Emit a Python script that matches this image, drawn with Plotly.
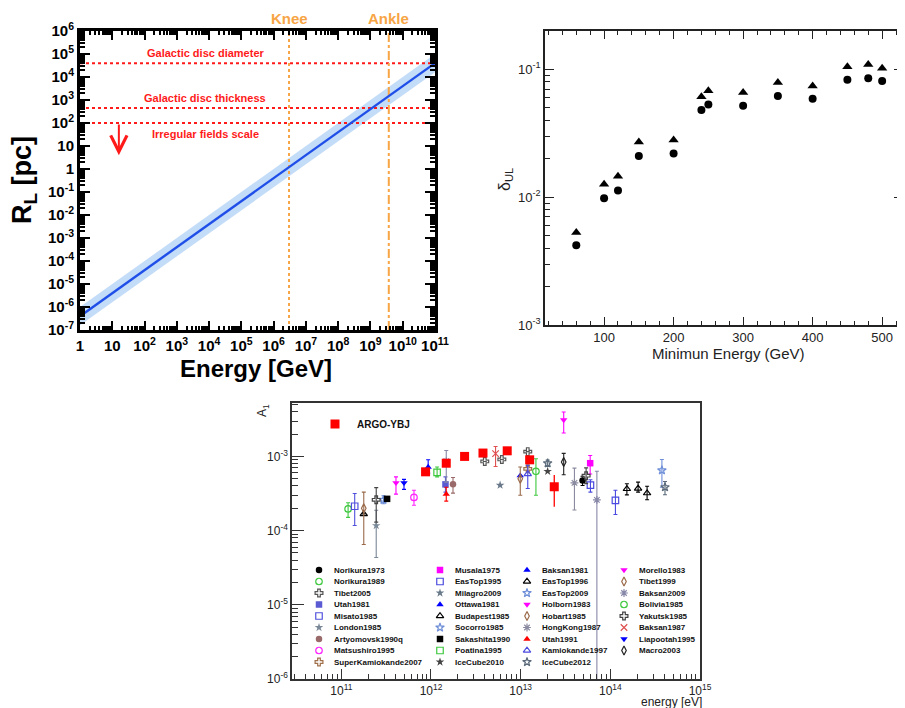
import math
import plotly.graph_objects as go

W, H = 905, 708
OFF = 8  # the page body adds an 8px margin around the figure
FONT = "Liberation Sans, Arial, Helvetica, sans-serif"

# ---------------- Panel 1: Larmor radius vs energy ----------------
rl_energy_gev = [1, 1e11]
rl_pc = [4e-7, 4e4]
rl_pc_low = [1.6e-7, 1.6e4]
rl_pc_high = [1.0e-6, 1.0e5]
rl_pc_axis = [1e-7, 1e6]
scale_labels = ["Galactic disc diameter", "Galactic disc thickness", "Irregular fields scale"]
scale_pc = [4e4, 450, 100]
feature_labels = ["Knee", "Ankle"]
feature_gev = [3e6, 3.7e9]
feature_dash = ["dot", "dashdot"]
p1_x_ticks = [10 ** k for k in range(0, 12)]
p1_x_ticktext = ["1", "10"] + [f"10<sup>{k}</sup>" for k in range(2, 12)]
p1_y_ticks = [10.0 ** k for k in range(-7, 7)]
p1_y_ticktext = [f"10<sup>{k}</sup>" for k in range(-7, 0)] + ["1", "10"] + [f"10<sup>{k}</sup>" for k in range(2, 7)]

# ---------------- Panel 2: delta_UL vs minimum energy ----------------
min_energy_gev = [60, 100, 120, 150, 200, 240, 250, 300, 350, 400, 450, 480, 500]
delta_ul_circle = [0.0042, 0.0098, 0.0113, 0.021, 0.022, 0.048, 0.053, 0.052, 0.062, 0.059, 0.083, 0.085, 0.081]
delta_ul_triangle = [0.0053, 0.0126, 0.0146, 0.027, 0.028, 0.061, 0.068, 0.066, 0.079, 0.074, 0.105, 0.109, 0.102]
p2_y_ticks = [1e-3, 1e-2, 1e-1]
p2_y_ticktext = ["10<sup>-3</sup>", "10<sup>-2</sup>", "10<sup>-1</sup>"]

# ---------------- Panel 3: dipole amplitude A1 vs energy ----------------
argo_energy_ev = [8.7e11, 1.48e12, 2.37e12, 3.8e12, 7.08e12, 1.26e13, 2.37e13]
argo_a1 = [6.2e-4, 8.1e-4, 1.0e-3, 1.11e-3, 1.19e-3, 9.0e-4, 3.9e-4]
argo_hi = [None, None, None, None, None, None, 5.6e-4]
argo_lo = [None, None, None, None, None, None, 2.1e-4]

exp_names = [
    "Norikura1973", "Norikura1989", "Tibet2005", "Utah1981", "Misato1985", "London1985",
    "Artyomovsk1990q", "Matsushiro1995", "SuperKamiokande2007",
    "Musala1975", "EasTop1995", "Milagro2009", "Ottawa1981", "Budapest1985", "Socorro1985",
    "Sakashita1990", "Poatina1995", "IceCube2010",
    "Baksan1981", "EasTop1996", "EasTop2009", "Holborn1983", "Hobart1985", "HongKong1987",
    "Utah1991", "Kamiokande1997", "IceCube2012",
    "Morello1983", "Tibet1999", "Baksan2009", "Bolivia1985", "Yakutsk1985", "Baksan1987",
    "Liapootah1995", "Macro2003",
]
exp_symbols = [
    "circle", "circle-open", "cross-open", "square", "square-open", "star",
    "circle", "circle-open", "cross-open",
    "square", "square-open", "star", "triangle-up", "triangle-up-open", "star-open",
    "square", "square-open", "star",
    "triangle-up", "triangle-up-open", "star-open", "triangle-down", "diamond-tall-open", "asterisk-open",
    "triangle-up", "triangle-up-open", "star-open",
    "triangle-down", "diamond-tall-open", "asterisk-open", "circle-open", "cross-open", "x-thin-open",
    "triangle-down", "diamond-tall-open",
]
exp_colors = [
    "#000000", "#3ec83e", "#555555", "#5a5ad2", "#5050dc", "#7a8898",
    "#9a6a6a", "#ff22ff", "#a0704a",
    "#ff00ff", "#4a4ae0", "#6a7a8a", "#0000ff", "#000000", "#6f8fd8",
    "#000000", "#3ec83e", "#444444",
    "#0000ff", "#000000", "#6f8fd8", "#ff00ff", "#9a6a4a", "#8a8aa0",
    "#ff0000", "#4a4ae0", "#5a6a7a",
    "#ff00ff", "#9a6a4a", "#8888a8", "#3ec83e", "#444444", "#e05050",
    "#0000ff", "#222222",
]

pt_exp = [
    "Norikura1973", "Norikura1989",
    "Tibet2005", "Tibet2005", "Tibet2005",
    "Utah1981", "Misato1985", "London1985", "Artyomovsk1990q", "Matsushiro1995",
    "SuperKamiokande2007", "Musala1975", "EasTop1995", "EasTop1995", "Milagro2009",
    "Ottawa1981", "Budapest1985", "Socorro1985", "Sakashita1990", "Poatina1995",
    "IceCube2010", "Baksan1981",
    "EasTop1996", "EasTop1996", "EasTop1996",
    "EasTop2009", "Holborn1983", "Hobart1985", "HongKong1987", "Utah1991",
    "Kamiokande1997", "IceCube2012", "IceCube2012", "Morello1983", "Tibet1999",
    "Baksan2009", "Baksan2009", "Bolivia1985", "Yakutsk1985", "Yakutsk1985",
    "Baksan1987", "Liapootah1995", "Macro2003",
]
pt_energy_ev = [
    4.9e13, 1.19e11,
    3.98e12, 6.17e12, 1.2e13,
    1.45e12, 1.41e11, 2.45e11, 1.76e12, 6.46e11,
    1.2e13, 5.96e13, 6.0e13, 1.14e14, 5.9e12,
    9.3e11, 1.78e11, 2.95e11, 3.24e11, 1.17e12,
    2.0e13, 9.9e12,
    1.53e14, 2.04e14, 2.57e14,
    3.76e14, 4.07e11, 1.78e11, 3.98e13, 1.48e12,
    1.2e13, 2.0e13, 4.07e14, 3.02e13, 9.9e12,
    1.48e12, 7.08e13, 1.48e13, 2.45e11, 5.37e13,
    5.25e12, 5.0e11, 3.02e13,
]
pt_a1 = [
    4.75e-4, 1.96e-4,
    8.55e-4, 9.1e-4, 1.16e-3,
    4.2e-4, 2.13e-4, 1.17e-4, 4.2e-4, 2.8e-4,
    6.8e-4, 8.1e-4, 4.1e-4, 2.55e-4, 4.1e-4,
    7.2e-4, 1.68e-4, 2.6e-4, 2.68e-4, 6.1e-4,
    6.3e-4, 5.5e-4,
    3.65e-4, 3.7e-4, 3.2e-4,
    6.5e-4, 4.4e-4, 2.0e-4, 4.4e-4, 3.1e-4,
    5.8e-4, 8.1e-4, 3.85e-4, 3.1e-3, 5.0e-4,
    8.6e-4, 2.6e-4, 6.3e-4, 2.6e-4, 5.5e-4,
    1.09e-3, 4.4e-4, 8.4e-4,
]
pt_hi = [
    5.4e-4, 2.37e-4,
    None, None, None,
    5.3e-4, 3.16e-4, 1.88e-4, 5.2e-4, 3.5e-4,
    7.4e-4, 1.03e-3, 4.85e-4, 3.5e-4, None,
    9.0e-4, None, 2.95e-4, None, 7.2e-4,
    None, None,
    4.28e-4, 4.5e-4, 3.97e-4,
    9.1e-4, 5.3e-4, 3.3e-4, 6.95e-4, 3.85e-4,
    7.6e-4, 8.9e-4, 4.6e-4, 3.97e-3, 7.2e-4,
    1.2e-3, 6.3e-4, 9.3e-4, 3.8e-4, 7.0e-4,
    1.36e-3, 4.9e-4, 1.1e-3,
]
pt_lo = [
    4.06e-4, 1.51e-4,
    None, None, None,
    3.3e-4, 1.17e-4, 4.35e-5, 3.2e-4, 2.2e-4,
    6.2e-4, 5.8e-4, 3.3e-4, 1.65e-4, None,
    5.95e-4, None, 2.3e-4, None, 5.3e-4,
    None, None,
    3.03e-4, 3.3e-4, 2.6e-4,
    3.85e-4, 3.1e-4, 6.5e-5, 1.9e-4, 2.5e-4,
    3.7e-4, 7.3e-4, 3.05e-4, 2.07e-3, 3.0e-4,
    4.5e-4, 1e-7, 3.0e-4, 1.3e-4, 4.3e-4,
    7.3e-4, 3.6e-4, 5.65e-4,
]
p3_x_ticks = [1e11, 1e12, 1e13, 1e14, 1e15]
p3_x_ticktext = [f"10<sup>{k}</sup>" for k in range(11, 16)]
p3_y_ticks = [1e-6, 1e-5, 1e-4, 1e-3]
p3_y_ticktext = [f"10<sup>{k}</sup>" for k in range(-6, -2)]

# ---------------- layout helpers (screen pixel -> paper) ----------------
def px(x):
    return (x - OFF) / W


def py(y):
    return 1 - (y - OFF) / H


def minor_log(lo, hi):
    return [m * 10.0 ** d for d in range(lo, hi) for m in range(2, 10)]


def err_up(vals, his):
    return [(h - v) if h is not None else None for v, h in zip(vals, his)]


def err_dn(vals, los):
    return [(v - l) if l is not None else None for v, l in zip(vals, los)]


fig = go.Figure()

# ---- Panel 1 traces
fig.add_trace(go.Scatter(x=rl_energy_gev, y=rl_pc_high, mode="lines", line=dict(width=0),
                         xaxis="x", yaxis="y", showlegend=False, hoverinfo="skip"))
fig.add_trace(go.Scatter(x=rl_energy_gev, y=rl_pc_low, mode="lines", line=dict(width=0),
                         fill="tonexty", fillcolor="rgba(170,205,245,0.7)",
                         xaxis="x", yaxis="y", showlegend=False, hoverinfo="skip"))
for v in scale_pc:
    fig.add_trace(go.Scatter(x=rl_energy_gev, y=[v, v], mode="lines",
                             line=dict(color="#ff1a1a", width=2, dash="dot"),
                             xaxis="x", yaxis="y", showlegend=False))
for e, d in zip(feature_gev, feature_dash):
    fig.add_trace(go.Scatter(x=[e, e], y=rl_pc_axis, mode="lines",
                             line=dict(color="#f7a545", width=2, dash=d),
                             xaxis="x", yaxis="y", showlegend=False))
fig.add_trace(go.Scatter(x=rl_energy_gev, y=rl_pc, mode="lines",
                         line=dict(color="#1f4fe8", width=2.4),
                         xaxis="x", yaxis="y", showlegend=False))

# ---- Panel 2 traces
fig.add_trace(go.Scatter(x=min_energy_gev, y=delta_ul_triangle, mode="markers",
                         marker=dict(symbol="triangle-up", size=9, color="black"),
                         xaxis="x2", yaxis="y2", showlegend=False))
fig.add_trace(go.Scatter(x=min_energy_gev, y=delta_ul_circle, mode="markers",
                         marker=dict(symbol="circle", size=8, color="black"),
                         xaxis="x2", yaxis="y2", showlegend=False))

# ---- Panel 3 traces
def marker_style(sym, col, size=6):
    is_open = sym.endswith("-open")
    return dict(symbol=sym, size=size, color=col,
                line=dict(color=col, width=1.2 if is_open else 0))


for name, sym, col in zip(exp_names, exp_symbols, exp_colors):
    idx = [i for i, e in enumerate(pt_exp) if e == name]
    xs = [pt_energy_ev[i] for i in idx]
    ys = [pt_a1[i] for i in idx]
    hi = [pt_hi[i] for i in idx]
    lo = [pt_lo[i] for i in idx]
    fig.add_trace(go.Scatter(
        x=xs, y=ys, mode="markers", marker=marker_style(sym, col, 6.5),
        error_y=dict(type="data", symmetric=False, array=err_up(ys, hi), arrayminus=err_dn(ys, lo),
                     color=col, thickness=1.1, width=2),
        xaxis="x3", yaxis="y3", showlegend=False, name=name))

fig.add_trace(go.Scatter(
    x=argo_energy_ev, y=argo_a1, mode="markers",
    marker=dict(symbol="square", size=9, color="#ff0000"),
    error_y=dict(type="data", symmetric=False, array=err_up(argo_a1, argo_hi),
                 arrayminus=err_dn(argo_a1, argo_lo), color="#ff0000", thickness=1.3, width=0),
    xaxis="x3", yaxis="y3", showlegend=False, name="ARGO-YBJ"))

# ---- Panel 3 legend (drawn on a pixel overlay axis, screen pixel units)
LEG_COL_PX = [319, 440, 527, 624]
LEG_ROW0, LEG_DY, LEG_TEXT_DX, LEG_ROWS = 570, 11.5, 13, 9
leg_x = [LEG_COL_PX[i // LEG_ROWS] for i in range(len(exp_names))]
leg_y = [LEG_ROW0 + (i % LEG_ROWS) * LEG_DY for i in range(len(exp_names))]
for i, (name, sym, col) in enumerate(zip(exp_names, exp_symbols, exp_colors)):
    fig.add_trace(go.Scatter(x=[leg_x[i]], y=[leg_y[i]], mode="markers",
                             marker=marker_style(sym, col, 6.5),
                             xaxis="x4", yaxis="y4", showlegend=False, hoverinfo="skip"))
ARGO_LEG = (335, 424)
fig.add_trace(go.Scatter(x=[ARGO_LEG[0]], y=[ARGO_LEG[1]], mode="markers",
                         marker=dict(symbol="square", size=9, color="#ff0000"),
                         xaxis="x4", yaxis="y4", showlegend=False, hoverinfo="skip"))


def note(x, y, text, size, color="#222", bold=False, xanchor="center", yanchor="middle", **kw):
    d = dict(x=x, y=y, xref=kw.pop("xref", "paper"), yref=kw.pop("yref", "paper"), text=text,
             showarrow=False, xanchor=xanchor, yanchor=yanchor,
             font=dict(family=FONT, size=size, color=color, weight="bold" if bold else "normal"))
    d.update(kw)
    return d


annotations = []
for i, name in enumerate(exp_names):
    annotations.append(note(px(leg_x[i] + LEG_TEXT_DX), py(leg_y[i]), name, 8, "#111", True, xanchor="left"))
annotations.append(note(px(ARGO_LEG[0] + 20), py(ARGO_LEG[1]), "ARGO-YBJ", 10, "#111", True, xanchor="left"))

# ---- Panel 1 annotations
for lab, e in zip(feature_labels, feature_gev):
    annotations.append(note(math.log10(e), py(19), lab, 15, "#f7a545", True, xref="x"))
for k, (lab, v) in enumerate(zip(scale_labels, scale_pc)):
    above = k < 2
    annotations.append(note(px(205), math.log10(v), lab, 11, "#ff1a1a", True, yref="y",
                            yanchor="bottom" if above else "top", yshift=2 if above else -3))
annotations.append(dict(x=math.log10(16), y=math.log10(4), xref="x", yref="y",
                        ax=math.log10(16), ay=math.log10(100), axref="x", ayref="y",
                        text="", showarrow=True, arrowhead=5, arrowsize=1.6, arrowwidth=2,
                        arrowcolor="#ff1a1a", standoff=0, startstandoff=0))
annotations.append(note(px(24), py(180), "R<sub>L</sub> [pc]", 27, "black", True, textangle=-90))
annotations.append(note(px(256), py(368), "Energy [GeV]", 24, "black", True))

# ---- Panel 2 annotations
annotations.append(note(px(505), py(180), "δ<sub>UL</sub>", 16, "#222", textangle=-90))
annotations.append(note(px(728), py(353), "Minimun Energy (GeV)", 15, "#222"))

# ---- Panel 3 annotations
annotations.append(note(px(263), py(411), "A<sub>1</sub>", 12, "#222", textangle=-90))
annotations.append(note(px(704), py(702), "energy [eV]", 12, "#222", xanchor="right"))

p1_tickfont = dict(family=FONT, size=15, color="black", weight="bold")
p2_tickfont = dict(family=FONT, size=13, color="#222")
p3_tickfont = dict(family=FONT, size=12, color="#222")

fig.update_layout(
    template="none",
    width=W, height=H, margin=dict(l=0, r=0, t=0, b=0, autoexpand=False),
    paper_bgcolor="white", plot_bgcolor="rgba(0,0,0,0)",
    showlegend=False, annotations=annotations,
    xaxis=dict(type="log", range=[0, 11], domain=[px(80), px(435)], anchor="y", automargin=False,
               showline=True, linecolor="black", linewidth=3, mirror="allticks",
               ticks="inside", ticklen=9, tickwidth=2, tickcolor="black",
               tickmode="array", tickvals=p1_x_ticks, ticktext=p1_x_ticktext, tickfont=p1_tickfont,
               minor=dict(ticks="inside", ticklen=4, tickwidth=1.5, tickcolor="black",
                          tickmode="array", tickvals=minor_log(0, 11)),
               showgrid=False, zeroline=False),
    yaxis=dict(type="log", range=[-7, 6], domain=[py(330), py(31)], anchor="x", automargin=False,
               showline=True, linecolor="black", linewidth=3, mirror="allticks",
               ticks="inside", ticklen=10, tickwidth=2, tickcolor="black",
               tickmode="array", tickvals=p1_y_ticks, ticktext=p1_y_ticktext, tickfont=p1_tickfont,
               minor=dict(ticks="inside", ticklen=5, tickwidth=1.5, tickcolor="black",
                          tickmode="array", tickvals=minor_log(-7, 6)),
               showgrid=False, zeroline=False),
    xaxis2=dict(range=[15, 530], domain=[px(545), px(903)], anchor="y2", automargin=False,
                showline=True, linecolor="#222", linewidth=1.5, mirror="allticks",
                ticks="inside", ticklen=8, tickwidth=1, tickcolor="#222",
                tickmode="linear", tick0=0, dtick=100, tickfont=p2_tickfont,
                minor=dict(ticks="inside", ticklen=4, tickwidth=1, tickcolor="#222", dtick=20, tick0=0),
                showgrid=False, zeroline=False),
    yaxis2=dict(type="log", range=[-3, -0.7], domain=[py(325), py(31)], anchor="x2", automargin=False,
                showline=True, linecolor="#222", linewidth=1.5, mirror="allticks",
                ticks="inside", ticklen=9, tickwidth=1, tickcolor="#222",
                tickmode="array", tickvals=p2_y_ticks, ticktext=p2_y_ticktext, tickfont=p2_tickfont,
                minor=dict(ticks="inside", ticklen=5, tickwidth=1, tickcolor="#222",
                           tickmode="array", tickvals=minor_log(-3, -1)),
                showgrid=False, zeroline=False),
    xaxis3=dict(type="log", range=[10.45, 15], domain=[px(292), px(700)], anchor="y3", automargin=False,
                showline=True, linecolor="#333", linewidth=1.5, mirror=True,
                ticks="inside", ticklen=10, tickwidth=1.2, tickcolor="#333",
                tickmode="array", tickvals=p3_x_ticks, ticktext=p3_x_ticktext, tickfont=p3_tickfont,
                minor=dict(ticks="inside", ticklen=5, tickwidth=1, tickcolor="#333",
                           tickmode="array", tickvals=minor_log(10, 15)),
                showgrid=False, zeroline=False),
    yaxis3=dict(type="log", range=[-6, -2.28], domain=[py(679), py(403)], anchor="x3", automargin=False,
                showline=True, linecolor="#333", linewidth=1.5, mirror=True,
                ticks="inside", ticklen=12, tickwidth=1.2, tickcolor="#333",
                tickmode="array", tickvals=p3_y_ticks, ticktext=p3_y_ticktext, tickfont=p3_tickfont,
                minor=dict(ticks="inside", ticklen=6, tickwidth=1, tickcolor="#333",
                           tickmode="array", tickvals=minor_log(-6, -2)),
                showgrid=False, zeroline=False),
    xaxis4=dict(domain=[0, 1], range=[OFF, W + OFF], anchor="y4", visible=False, fixedrange=True, automargin=False),
    yaxis4=dict(domain=[0, 1], range=[H + OFF, OFF], anchor="x4", visible=False, fixedrange=True, automargin=False),
)

fig.write_html("out.html")
